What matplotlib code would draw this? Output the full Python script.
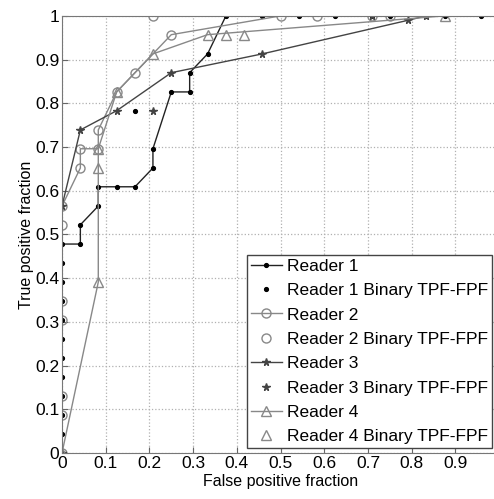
import numpy as np
import matplotlib
matplotlib.use('Agg')
import matplotlib.pyplot as plt

# ROC curves (FPF, TPF)
r1_fpf = [0, 0, 0, 0, 0, 0, 0, 0, 0, 0, 0, 0, 0.042, 0.042, 0.083, 0.083, 0.125, 0.167,
          0.208, 0.208, 0.25, 0.292, 0.292, 0.333, 0.375, 0.458, 0.542, 0.625, 0.708,
          0.75, 0.833, 0.875, 0.958, 1.0]
r1_tpf = [0, 0.043, 0.087, 0.130, 0.174, 0.217, 0.261, 0.304, 0.348, 0.391, 0.435, 0.478,
          0.478, 0.522, 0.565, 0.609, 0.609, 0.609, 0.652, 0.696, 0.826, 0.826, 0.870,
          0.913, 1.0, 1.0, 1.0, 1.0, 1.0, 1.0, 1.0, 1.0, 1.0, 1.0]
r1_bin_fpf = [0.167]
r1_bin_tpf = [0.783]

r2_fpf = [0, 0, 0, 0, 0, 0, 0.042, 0.042, 0.083, 0.083, 0.125, 0.167, 0.25, 0.5,
          0.708, 0.75, 1.0]
r2_tpf = [0, 0.087, 0.130, 0.304, 0.522, 0.565, 0.652, 0.696, 0.696, 0.739, 0.826,
          0.870, 0.957, 1.0, 1.0, 1.0, 1.0]
r2_bin_fpf = [0, 0.208, 0.583]
r2_bin_tpf = [0.348, 1.0, 1.0]

r3_fpf = [0, 0, 0.042, 0.125, 0.25, 0.458, 0.792, 0.833, 1.0]
r3_tpf = [0, 0.565, 0.739, 0.783, 0.870, 0.913, 0.99, 1.0, 1.0]
r3_bin_fpf = [0.208, 0.708]
r3_bin_tpf = [0.783, 1.0]

r4_fpf = [0, 0.083, 0.083, 0.125, 0.208, 0.333, 0.875, 1.0]
r4_tpf = [0, 0.391, 0.696, 0.826, 0.913, 0.957, 1.0, 1.0]
r4_bin_fpf = [0.083, 0.375, 0.417]
r4_bin_tpf = [0.652, 0.957, 0.957]

plt.rcParams['font.family'] = ['Liberation Sans', 'DejaVu Sans']
plt.rcParams['font.size'] = 12.5

fig = plt.figure(figsize=(4.94, 4.99), dpi=100)
# axes run slightly past the right edge, like the cropped original
ax = fig.add_axes([0.1255, 0.0922, 0.885, 0.876])

dark = '#222222'
mid = '#444444'
grey = '#888888'

ax.plot(r1_fpf, r1_tpf, '-', color=dark, lw=1, marker='.', ms=5.5, mfc='k', mec='k', label='Reader 1')
ax.plot(r1_bin_fpf, r1_bin_tpf, '.', color='k', ms=5.5, label='Reader 1 Binary TPF-FPF')
ax.plot(r2_fpf, r2_tpf, '-', color=grey, lw=1, marker='o', ms=6.5, mfc='none', mec=grey, label='Reader 2')
ax.plot(r2_bin_fpf, r2_bin_tpf, 'o', ms=6.5, mfc='none', mec=grey, label='Reader 2 Binary TPF-FPF')
ax.plot(r3_fpf, r3_tpf, '-', color=mid, lw=1, marker='*', ms=5.5, mfc=mid, mec=mid, label='Reader 3')
ax.plot(r3_bin_fpf, r3_bin_tpf, '*', ms=5.5, mfc=mid, mec=mid, label='Reader 3 Binary TPF-FPF')
ax.plot(r4_fpf, r4_tpf, '-', color=grey, lw=1, marker='^', ms=6.5, mfc='none', mec=grey, label='Reader 4')
ax.plot(r4_bin_fpf, r4_bin_tpf, '^', ms=6.5, mfc='none', mec=grey, label='Reader 4 Binary TPF-FPF')

ax.set_xlim(0, 1)
ax.set_ylim(0, 1)
ax.set_xticks(np.arange(0, 1.0, 0.1))
ax.set_xticklabels(['0', '0.1', '0.2', '0.3', '0.4', '0.5', '0.6', '0.7', '0.8', '0.9'])
ax.set_yticks(np.arange(0, 1.01, 0.1))
ax.set_yticklabels(['0', '0.1', '0.2', '0.3', '0.4', '0.5', '0.6', '0.7', '0.8', '0.9', '1'])
ax.grid(True, color='#b0b0b0', linestyle=':', lw=0.9)
ax.tick_params(direction='in', length=4, color='#666666', pad=2, labelsize=12.5)
for s in ax.spines.values():
    s.set_color('#777777')

ax.set_xlabel('False positive fraction', fontsize=11.5, labelpad=2)
ax.set_ylabel('True positive fraction', fontsize=11.5, labelpad=1)

leg = ax.legend(loc='lower right', bbox_to_anchor=(0.995, 0.0), fancybox=False,
                framealpha=1, edgecolor='#444444', handlelength=1.8, handletextpad=0.3,
                borderpad=0.2, labelspacing=0.53, borderaxespad=0.3, fontsize=12.5)
leg.get_frame().set_linewidth(1)

fig.savefig('out.png', dpi=100)
